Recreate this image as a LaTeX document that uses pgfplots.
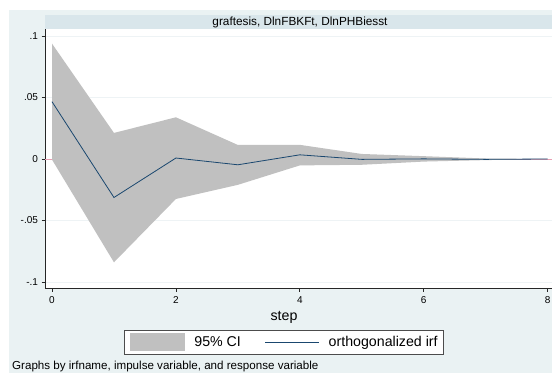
\documentclass[border=0pt]{standalone}
\usepackage{pgfplots}
\pgfplotsset{compat=1.18}
\usepackage{fontspec}
\setmainfont{Liberation Sans}
\definecolor{bgc}{HTML}{EAF2F3}
\definecolor{stripc}{HTML}{D9E6EB}
\definecolor{cic}{HTML}{C0C0C0}
\definecolor{irfc}{HTML}{1A476F}
\definecolor{zeroc}{HTML}{E8A0B4}
\definecolor{gridc}{HTML}{EEF3F5}
\begin{document}
\begin{tikzpicture}
\useasboundingbox (0pt,0pt) rectangle (552pt,-373pt);
\fill[bgc] (9pt,-10pt) rectangle (552pt,-373pt);
\fill[stripc] (45pt,-15pt) rectangle (552pt,-29pt);
\node[font=\fontsize{11.8}{13}\selectfont] at (300pt,-22pt) {graftesis, DlnFBKFt, DlnPHBiesst};
\node[anchor=west, font=\fontsize{11.6}{13}\selectfont, inner sep=0pt] at (12pt,-366pt) {Graphs by irfname, impulse variable, and response variable};
\node[font=\fontsize{14.2}{16}\selectfont] at (284pt,-317pt) {step};
\begin{axis}[
  at={(45pt,-288pt)}, anchor=south west,
  scale only axis, width=507pt, height=259pt,
  xmin=-0.113, xmax=8.07, ymin=-0.1049, ymax=0.1057,
  axis background/.style={fill=white},
  axis x line*=bottom, axis y line*=left,
  axis line style={black!85, line width=0.8pt},
  xtick={0,2,4,6,8}, xticklabels={0,2,4,6,8},
  ytick={-0.1,-0.05,0,0.05,0.1}, yticklabels={-.1,-.05,0,.05,.1},
  tick align=outside, major tick length=3.5pt,
  tick style={black!85, line width=0.8pt},
  ticklabel style={font=\fontsize{10}{12}\selectfont},
  xticklabel style={yshift=-1.5pt},
  ymajorgrids, grid style={gridc, line width=0.8pt},
  legend style={draw=black!70, line width=0.8pt, fill=white,
    at={(axis description cs:0.4714,-0.2085)}, anchor=center,
    legend columns=2, font=\fontsize{14.2}{16}\selectfont,
    inner xsep=6pt, inner ysep=3pt, nodes={inner sep=0pt},
    /tikz/every odd column/.append style={column sep=9pt},
    /tikz/every even column/.append style={column sep=24pt}},
]
\addplot[zeroc, line width=0.9pt, forget plot] coordinates {(-0.2,0) (8.2,0)};
\addplot[fill=cic, draw=none,
  legend image code/.code={\fill[cic] (0pt,-9pt) rectangle (55pt,9pt);}]
  coordinates {
  (0,0.0938) (1,0.0212) (2,0.0339) (3,0.0114) (4,0.0115) (5,0.0041) (6,0.0023) (7,0.0004) (8,0)
  (8,0) (7,-0.0009) (6,-0.0021) (5,-0.0047) (4,-0.0052) (3,-0.0210) (2,-0.0325) (1,-0.0840) (0,-0.0005)
  };
\addlegendentry{95\% CI}
\addplot[irfc, line width=0.8pt,
  legend image code/.code={\draw[irfc, line width=0.8pt] (0pt,0pt) -- (54pt,0pt);}]
  coordinates {
  (0,0.0466) (1,-0.0313) (2,0.0008) (3,-0.0047) (4,0.0034) (5,-0.0003) (6,0.0001) (7,-0.0003) (8,0)
  };
\addlegendentry{orthogonalized irf\hspace{5pt}}
\end{axis}
\end{tikzpicture}
\end{document}
